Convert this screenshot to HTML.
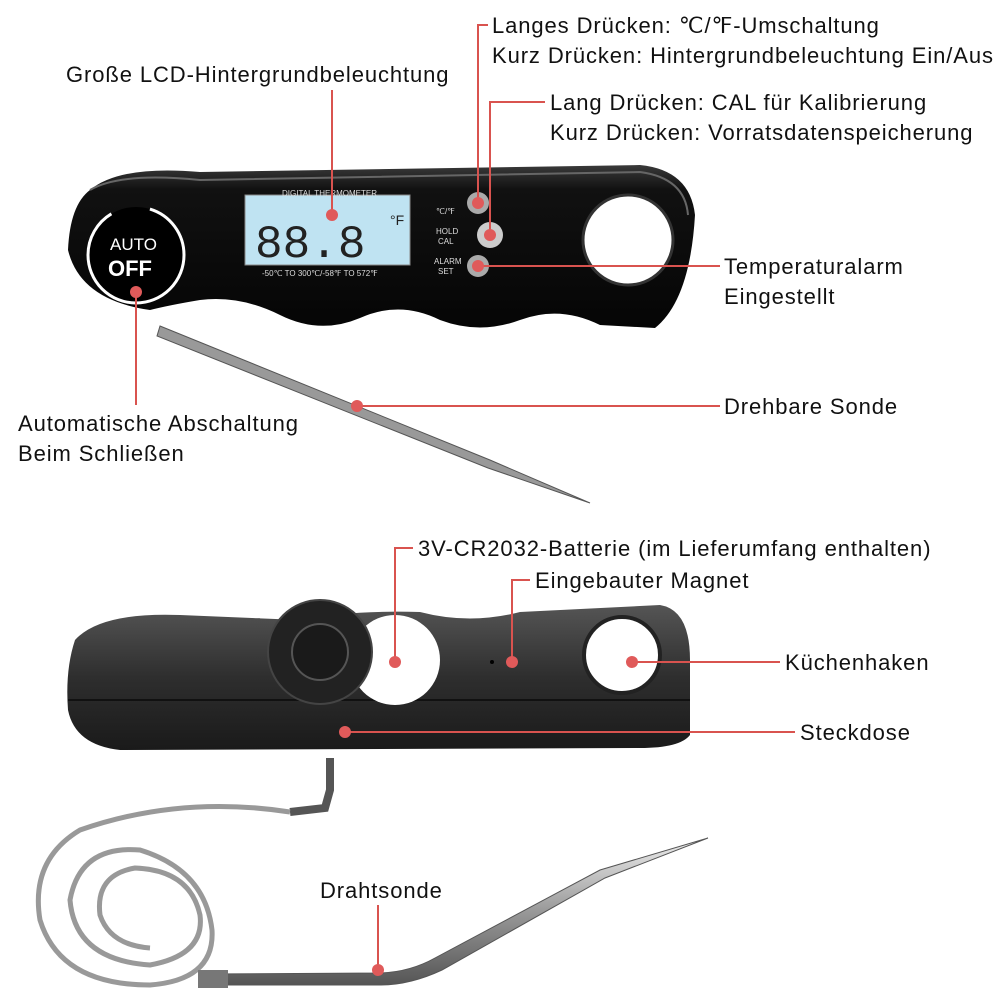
<!DOCTYPE html>
<html><head><meta charset="utf-8"><style>
html,body{margin:0;padding:0;background:#fff;}
svg{display:block}
text{font-family:"Liberation Sans",sans-serif;font-size:22px;letter-spacing:0.9px;fill:#111}
text.s{letter-spacing:0}
</style></head><body>
<svg width="1000" height="1000" viewBox="0 0 1000 1000">
<defs>
<linearGradient id="body1" x1="0" y1="0" x2="0" y2="1"><stop offset="0" stop-color="#3a3a3a"/><stop offset="0.15" stop-color="#111"/><stop offset="1" stop-color="#050505"/></linearGradient>
<linearGradient id="body2" x1="0" y1="0" x2="0" y2="1"><stop offset="0" stop-color="#555"/><stop offset="0.5" stop-color="#2e2e2e"/><stop offset="1" stop-color="#1a1a1a"/></linearGradient>
<linearGradient id="steel" x1="0" y1="0" x2="0" y2="1"><stop offset="0" stop-color="#eee"/><stop offset="0.5" stop-color="#999"/><stop offset="1" stop-color="#555"/></linearGradient>
</defs>

<!-- top probe -->
<path d="M160 326 L490 460 L590 503 L488 468 L157 336 Z" fill="#999" stroke="#555" stroke-width="1"/>
<!-- top body -->
<path d="M90 190 Q120 165 200 172 L640 165 Q690 170 695 215 Q690 300 655 328 L600 325 Q560 305 520 320 Q480 335 440 320 Q400 300 360 318 Q320 335 280 315 Q240 295 200 300 Q170 305 150 310 Q80 300 68 250 Q70 205 90 190 Z" fill="url(#body1)"/>
<path d="M90 190 Q120 172 200 180 L640 172 Q685 178 688 215" fill="none" stroke="#666" stroke-width="2"/>
<circle cx="628" cy="240" r="45" fill="#fff" stroke="#333" stroke-width="3"/>
<!-- LCD -->
<rect x="245" y="195" width="165" height="70" fill="#bfe3f2" stroke="#888"/>
<text class="s" x="255" y="257" style="font-size:46px;fill:#222;font-family:'Liberation Mono',monospace">88.8</text>
<text class="s" x="390" y="225" style="font-size:14px;fill:#222">°F</text>
<text class="s" x="282" y="196" style="font-size:8px;fill:#ddd">DIGITAL THERMOMETER</text>
<text class="s" x="262" y="276" style="font-size:8px;fill:#ddd">-50℃ TO 300℃/-58℉ TO 572℉</text>
<text class="s" x="436" y="214" style="font-size:8px;fill:#ddd">℃/℉</text>
<text class="s" x="436" y="234" style="font-size:8px;fill:#ddd">HOLD</text>
<text class="s" x="438" y="244" style="font-size:8px;fill:#ddd">CAL</text>
<text class="s" x="434" y="264" style="font-size:8px;fill:#ddd">ALARM</text>
<text class="s" x="438" y="274" style="font-size:8px;fill:#ddd">SET</text>
<circle cx="478" cy="203" r="11" fill="#aaa"/><circle cx="490" cy="235" r="13" fill="#ccc"/><circle cx="478" cy="266" r="11" fill="#aaa"/>
<!-- auto off -->
<circle cx="136" cy="255" r="48" fill="#000" stroke="#fff" stroke-width="3" stroke-dasharray="200 40"/>
<text class="s" x="110" y="250" style="font-size:17px;fill:#fff">AUTO</text>
<text class="s" x="108" y="276" style="font-size:22px;font-weight:bold;fill:#fff">OFF</text>

<!-- bottom body -->
<path d="M190 628 L260 620" stroke="#999" stroke-width="4"/>
<path d="M75 640 Q100 612 180 615 L300 620 Q350 610 420 612 Q470 625 520 612 L660 605 Q690 610 690 660 L690 735 Q680 748 640 748 L120 750 Q75 745 68 710 Q65 670 75 640 Z" fill="url(#body2)"/>
<path d="M68 700 L690 700" stroke="#111" stroke-width="2"/>
<circle cx="395" cy="660" r="45" fill="#fff"/>
<circle cx="622" cy="655" r="38" fill="#fff" stroke="#222" stroke-width="4"/>
<circle cx="320" cy="652" r="52" fill="#222" stroke="#444" stroke-width="2"/>
<circle cx="320" cy="652" r="28" fill="#1a1a1a" stroke="#555" stroke-width="2"/>
<circle cx="492" cy="662" r="2" fill="#000"/>
<!-- cable -->
<path d="M330 758 L330 790 L325 808 L290 812" stroke="#555" stroke-width="8" fill="none"/>
<path d="M290 812 Q180 795 80 830 Q30 860 40 920 Q60 985 150 985 Q215 980 212 930 Q205 870 140 850 Q80 845 70 900 Q75 960 150 965 Q205 955 200 915 Q190 870 135 868 Q95 875 100 915 Q110 945 150 948" stroke="#999" stroke-width="5" fill="none"/>
<path d="M205 974 L380 973 Q410 972 435 958 L600 870 L708 838 L605 878 L442 970 Q410 985 380 985 L205 985 Z" fill="url(#steel)" stroke="#555"/>
<rect x="198" y="970" width="30" height="18" fill="#777"/>

<!-- callouts -->
<g stroke="#d9534f" stroke-width="2" fill="none">
<path d="M332 90 L332 215"/>
<path d="M478 203 L478 25 L488 25"/>
<path d="M490 235 L490 102 L545 102"/>
<path d="M478 266 L720 266"/>
<path d="M136 292 L136 405"/>
<path d="M357 406 L720 406"/>
<path d="M395 662 L395 548 L413 548"/>
<path d="M512 662 L512 580 L530 580"/>
<path d="M632 662 L780 662"/>
<path d="M345 732 L795 732"/>
<path d="M378 970 L378 905"/>
</g>
<g fill="#e05a5a">
<circle cx="332" cy="215" r="6"/><circle cx="478" cy="203" r="6"/><circle cx="490" cy="235" r="6"/><circle cx="478" cy="266" r="6"/>
<circle cx="136" cy="292" r="6"/><circle cx="357" cy="406" r="6"/><circle cx="395" cy="662" r="6"/><circle cx="512" cy="662" r="6"/>
<circle cx="632" cy="662" r="6"/><circle cx="345" cy="732" r="6"/><circle cx="378" cy="970" r="6"/>
</g>

<text x="66" y="82">Große LCD-Hintergrundbeleuchtung</text>
<text x="492" y="33">Langes Drücken: ℃/℉-Umschaltung</text>
<text x="492" y="63">Kurz Drücken: Hintergrundbeleuchtung Ein/Aus</text>
<text x="550" y="110">Lang Drücken: CAL für Kalibrierung</text>
<text x="550" y="140">Kurz Drücken: Vorratsdatenspeicherung</text>
<text x="724" y="274">Temperaturalarm</text>
<text x="724" y="304">Eingestellt</text>
<text x="724" y="414">Drehbare Sonde</text>
<text x="18" y="431">Automatische Abschaltung</text>
<text x="18" y="461">Beim Schließen</text>
<text x="418" y="556">3V-CR2032-Batterie (im Lieferumfang enthalten)</text>
<text x="535" y="588">Eingebauter Magnet</text>
<text x="785" y="670">Küchenhaken</text>
<text x="800" y="740">Steckdose</text>
<text x="320" y="898">Drahtsonde</text>
</svg>
</body></html>
